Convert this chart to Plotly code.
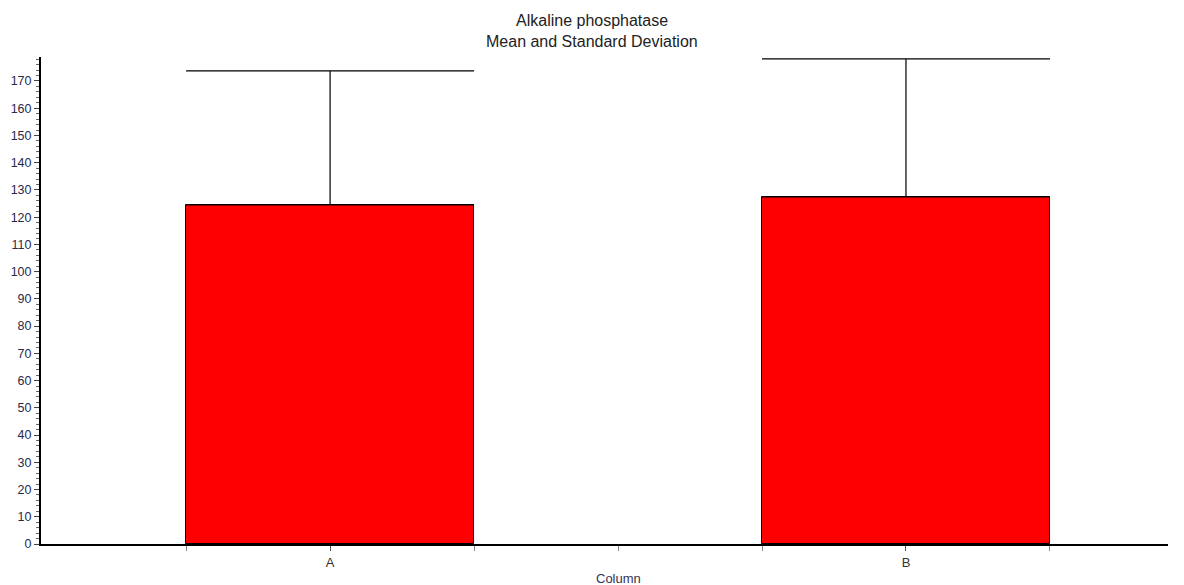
import plotly.graph_objects as go

# Alkaline phosphatase: group means with one standard deviation above
categories = ["A", "B"]
means = [124.5, 127.4]
std_devs = [49.2, 50.7]
y_ticks = list(range(0, 171, 10))

positions = list(range(len(categories)))
# small ticks at bar edges and between the groups
minor_x = [p + d for p in positions for d in (-0.25, 0.25)] + [0.5]

fig = go.Figure(
    go.Bar(
        x=positions,
        y=means,
        width=0.5,
        marker=dict(color="#FF0000", line=dict(color="#000000", width=1)),
        error_y=dict(
            type="data",
            symmetric=False,
            array=std_devs,
            arrayminus=[0] * len(std_devs),
            color="#000000",
            thickness=1.2,
            width=144,
        ),
    )
)

fig.update_layout(
    width=1184,
    height=585,
    margin=dict(l=41, r=16, t=57, b=41, autoexpand=False),
    paper_bgcolor="white",
    plot_bgcolor="white",
    showlegend=False,
    font=dict(family="Liberation Sans, Arial, sans-serif", color="#1a1a2e"),
    bargap=0,
    annotations=[
        dict(
            text="Alkaline phosphatase",
            xref="paper", yref="paper", x=0.489, y=1,
            xanchor="center", yanchor="middle", yshift=37,
            showarrow=False, font=dict(size=16, color="#222222"),
        ),
        dict(
            text="Mean and Standard Deviation",
            xref="paper", yref="paper", x=0.489, y=1,
            xanchor="center", yanchor="middle", yshift=16,
            showarrow=False, font=dict(size=16, color="#222222"),
        ),
        dict(
            text="Column",
            xref="paper", yref="paper", x=0.512, y=0,
            xanchor="center", yanchor="middle", yshift=-34,
            showarrow=False, font=dict(size=13, color="#333355"),
        ),
    ],
)

fig.update_xaxes(
    range=[-0.502, 1.455],
    tickvals=positions,
    ticktext=categories,
    ticks="outside",
    ticklen=5,
    tickcolor="#555555",
    tickfont=dict(size=13, color="#333333"),
    showline=True,
    linecolor="#000000",
    linewidth=2,
    showgrid=False,
    zeroline=False,
    automargin=False,
    minor=dict(tickvals=minor_x, ticks="outside", ticklen=5, tickcolor="#888888"),
)

fig.update_yaxes(
    range=[0, 178.8],
    tickvals=y_ticks,
    ticks="outside",
    ticklen=5,
    tickcolor="#444444",
    tickfont=dict(size=12.5, color="#2a2a4a"),
    showline=True,
    linecolor="#000000",
    linewidth=2,
    showgrid=False,
    zeroline=False,
    automargin=False,
    minor=dict(dtick=2, ticks="outside", ticklen=3, tickcolor="#666666"),
)

fig.write_html("out.html")
